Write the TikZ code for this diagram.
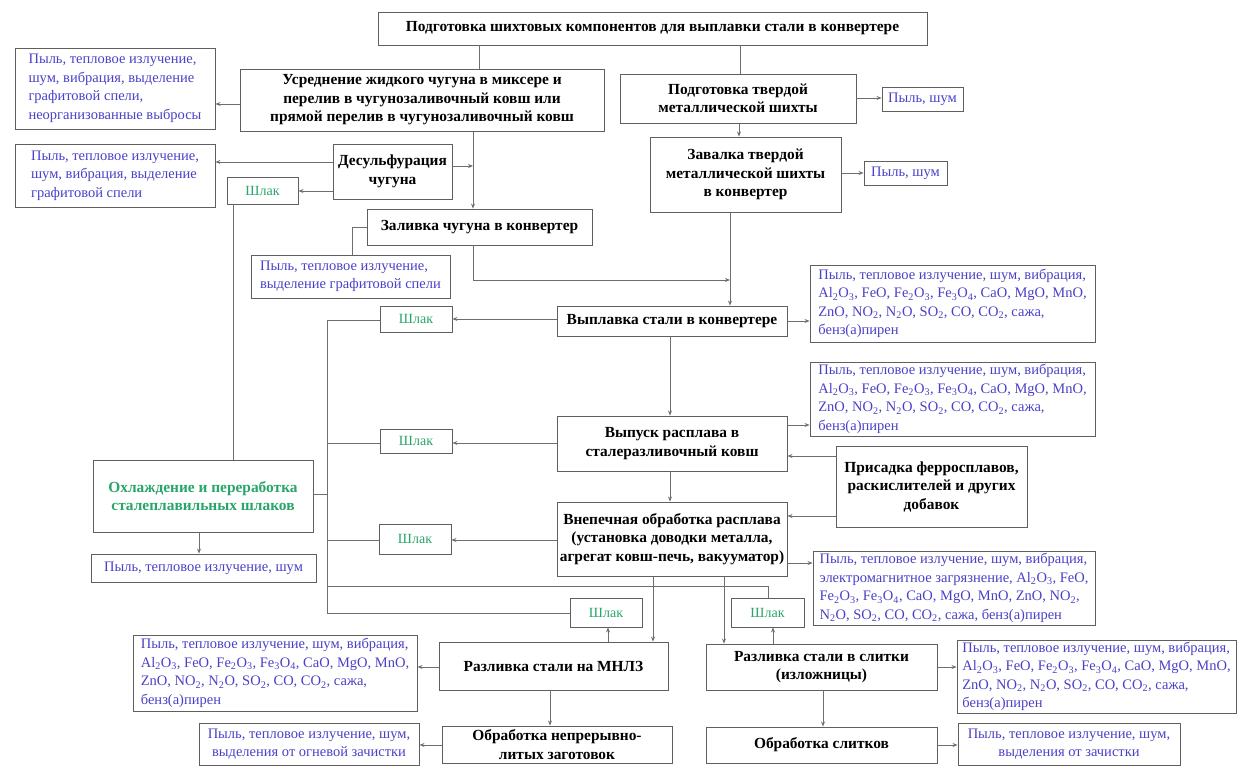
\documentclass[tikz,border=0pt]{standalone}
\usepackage{fontspec}
\setmainfont{Liberation Serif}
\usetikzlibrary{arrows.meta}
\newcommand{\ssub}[1]{\textsubscript{#1}}
\definecolor{boxgray}{RGB}{95,95,95}
\definecolor{linegray}{RGB}{110,110,110}
\definecolor{emisblue}{RGB}{75,65,200}
\definecolor{slaggreen}{RGB}{40,165,105}
\tikzset{
  box/.style={draw=boxgray, line width=0.9pt, inner sep=2pt, align=center, fill=white},
  proc/.style={box, font=\fontsize{15.4}{18.5}\selectfont\bfseries},
  emis/.style={box, text=emisblue, font=\fontsize{14.5}{18.5}\selectfont, align=left},
  emisc/.style={box, text=emisblue, font=\fontsize{14.5}{18.5}\selectfont, align=center},
  slag/.style={box, text=slaggreen, font=\fontsize{14}{16}\selectfont},
  ln/.style={draw=linegray, line width=0.8pt},
  arr/.style={ln, -{Stealth[length=5pt,width=4pt]}}
}
\begin{document}
\begin{tikzpicture}[x=1pt,y=-1pt]
\useasboundingbox (0,0) rectangle (1237,767);
% process boxes
\node[proc, minimum width=549pt, minimum height=33pt] (top) at (652.5,28.5) {Подготовка шихтовых компонентов для выплавки стали в конвертере};
\node[proc, minimum width=364pt, minimum height=62pt] (usr) at (422,100) {Усреднение жидкого чугуна в миксере и\\ перелив в чугунозаливочный ковш или\\ прямой перелив в чугунозаливочный ковш};
\node[proc, minimum width=236pt, minimum height=49pt] (tv) at (738,98.5) {Подготовка твердой\\ металлической шихты};
\node[proc, minimum width=191pt, minimum height=75pt] (zav) at (745.5,174.5) {Завалка твердой\\ металлической шихты\\ в конвертер};
\node[proc, minimum width=119pt, minimum height=55pt] (des) at (392.5,171.5) {Десульфурация\\ чугуна};
\node[proc, minimum width=225pt, minimum height=36pt] (zal) at (479.5,227) {Заливка чугуна в конвертер};
\node[proc, minimum width=230pt, minimum height=30pt] (vyp) at (672,321) {Выплавка стали в конвертере};
\node[proc, minimum width=230pt, minimum height=55pt] (vyk) at (672,443.5) {Выпуск расплава в\\ сталеразливочный ковш};
\node[proc, minimum width=191pt, minimum height=81pt] (pris) at (931.5,486.5) {Присадка ферросплавов,\\ раскислителей и других\\ добавок};
\node[proc, minimum width=230pt, minimum height=74pt] (vnep) at (672,539) {Внепечная обработка расплава\\ (установка доводки металла,\\ агрегат ковш-печь, вакууматор)};
\node[proc, minimum width=229pt, minimum height=48pt] (mnlz) at (553.5,666) {Разливка стали на МНЛЗ};
\node[proc, minimum width=231pt, minimum height=46pt] (slit) at (821.5,667) {Разливка стали в слитки\\ (изложницы)};
\node[proc, minimum width=230pt, minimum height=37pt] (obnl) at (557,744.5) {Обработка непрерывно-\\литых заготовок};
\node[proc, minimum width=231pt, minimum height=36pt] (obsl) at (821.5,745) {Обработка слитков};
\node[proc, text=slaggreen, minimum width=220pt, minimum height=72pt] (ohl) at (203,496) {Охлаждение и переработка\\ сталеплавильных шлаков};
% slag boxes
\node[slag, minimum width=71pt, minimum height=27pt] (sl1) at (262.5,190.5) {Шлак};
\node[slag, minimum width=72pt, minimum height=26pt] (sl2) at (416,319) {Шлак};
\node[slag, minimum width=72pt, minimum height=24pt] (sl3) at (416,441) {Шлак};
\node[slag, minimum width=72pt, minimum height=30pt] (sl4) at (415,539) {Шлак};
\node[slag, minimum width=72pt, minimum height=29pt] (sl5) at (606,612.5) {Шлак};
\node[slag, minimum width=73pt, minimum height=29pt] (sl6) at (767.5,612.5) {Шлак};
% emission boxes
\node[emis, minimum width=200pt, minimum height=81pt] (e1) at (115,88.5) {Пыль, тепловое излучение,\\ шум, вибрация, выделение\\ графитовой спели,\\ неорганизованные выбросы};
\node[emis, minimum width=200pt, minimum height=63pt] (e2) at (115,175.5) {Пыль, тепловое излучение,\\ шум, вибрация, выделение\\ графитовой спели};
\node[emis, minimum width=199pt, minimum height=43pt] (e3) at (350.5,276.5) {Пыль, тепловое излучение,\\ выделение графитовой спели};
\node[emis, minimum width=81pt, minimum height=24pt] (e4) at (922.5,99) {Пыль, шум};
\node[emis, minimum width=83pt, minimum height=24pt] (e5) at (905.5,173) {Пыль, шум};
\node[emis, minimum width=285pt, minimum height=77pt] (e6) at (952.5,303.5) {Пыль, тепловое излучение, шум, вибрация,\\ Al\ssub{2}O\ssub{3}, FeO, Fe\ssub{2}O\ssub{3}, Fe\ssub{3}O\ssub{4}, CaO, MgO, MnO,\\ ZnO, NO\ssub{2}, N\ssub{2}O, SO\ssub{2}, CO, CO\ssub{2}, сажа,\\ бенз(а)пирен};
\node[emis, minimum width=285pt, minimum height=74pt] (e7) at (952.5,399) {Пыль, тепловое излучение, шум, вибрация,\\ Al\ssub{2}O\ssub{3}, FeO, Fe\ssub{2}O\ssub{3}, Fe\ssub{3}O\ssub{4}, CaO, MgO, MnO,\\ ZnO, NO\ssub{2}, N\ssub{2}O, SO\ssub{2}, CO, CO\ssub{2}, сажа,\\ бенз(а)пирен};
\node[emis, minimum width=282pt, minimum height=74pt] (e8) at (954,588) {Пыль, тепловое излучение, шум, вибрация,\\ электромагнитное загрязнение, Al\ssub{2}O\ssub{3}, FeO,\\ Fe\ssub{2}O\ssub{3}, Fe\ssub{3}O\ssub{4}, CaO, MgO, MnO, ZnO, NO\ssub{2},\\ N\ssub{2}O, SO\ssub{2}, CO, CO\ssub{2}, сажа, бенз(а)пирен};
\node[emis, minimum width=284pt, minimum height=76pt] (e9) at (275,673) {Пыль, тепловое излучение, шум, вибрация,\\ Al\ssub{2}O\ssub{3}, FeO, Fe\ssub{2}O\ssub{3}, Fe\ssub{3}O\ssub{4}, CaO, MgO, MnO,\\ ZnO, NO\ssub{2}, N\ssub{2}O, SO\ssub{2}, CO, CO\ssub{2}, сажа,\\ бенз(а)пирен};
\node[emis, minimum width=279pt, minimum height=67pt] (e10) at (1096.5,676.5) {Пыль, тепловое излучение, шум, вибрация,\\ Al\ssub{2}O\ssub{3}, FeO, Fe\ssub{2}O\ssub{3}, Fe\ssub{3}O\ssub{4}, CaO, MgO, MnO,\\ ZnO, NO\ssub{2}, N\ssub{2}O, SO\ssub{2}, CO, CO\ssub{2}, сажа,\\ бенз(а)пирен};
\node[emisc, minimum width=220pt, minimum height=42pt] (e11) at (309,744) {Пыль, тепловое излучение, шум,\\ выделения от огневой зачистки};
\node[emisc, minimum width=222pt, minimum height=42pt] (e12) at (1069,744) {Пыль, тепловое излучение, шум,\\ выделения от зачистки};
\node[emis, minimum width=225pt, minimum height=28pt] (e13) at (203.5,568) {Пыль, тепловое излучение, шум};
% connectors
\draw[ln] (top.south -| 479,0) -- (usr.north -| 479,0);
\draw[ln] (top.south -| 740,0) -- (tv.north -| 740,0);
\draw[arr] (usr.west |- 0,104) -- (e1.east |- 0,104);
\draw[arr] (usr.south -| 473,0) -- (zal.north -| 473,0);
\draw[arr] (des.east |- 0,166) -- (473,166);
\draw[arr] (des.west |- 0,162) -- (e2.east |- 0,162);
\draw[arr] (des.west |- 0,191) -- (sl1.east |- 0,191);
\draw[ln] (sl1.south -| 233,0) -- (ohl.north -| 233,0);
\coordinate (zc) at (352,227);
\draw[ln] (zal.west |- zc) -- (zc) -- (e3.north -| zc);
\coordinate (zb) at (473,280);
\draw[arr] (zal.south -| zb) -- (zb) -- (730,280);
\draw[arr] (tv.south -| 739,0) -- (zav.north -| 739,0);
\draw[arr] (tv.east |- 0,98) -- (e4.west |- 0,98);
\draw[arr] (zav.east |- 0,173) -- (e5.west |- 0,173);
\draw[arr] (zav.south -| 730,0) -- (vyp.north -| 730,0);
\draw[arr] (vyp.east |- 0,321) -- (e6.west |- 0,321);
\draw[arr] (vyp.west |- 0,319) -- (sl2.east |- 0,319);
\draw[arr] (vyp.south -| 670,0) -- (vyk.north -| 670,0);
\draw[arr] (vyk.west |- 0,443) -- (sl3.east |- 0,443);
\draw[arr] (vyk.east |- 0,425) -- (e7.west |- 0,425);
\draw[arr] (pris.west |- 0,456) -- (vyk.east |- 0,456);
\draw[arr] (pris.west |- 0,516) -- (vnep.east |- 0,516);
\draw[arr] (vyk.south -| 670,0) -- (vnep.north -| 670,0);
\draw[arr] (vnep.west |- 0,540) -- (sl4.east |- 0,540);
\draw[arr] (vnep.east |- 0,563) -- (e8.west |- 0,563);
% slag collector
\coordinate (c1) at (327,320);
\coordinate (c2) at (327,613);
\coordinate (c3) at (768,586);
\draw[ln] (sl2.west |- c1) -- (c1) -- (c2) -- (sl5.west |- c2);
\draw[ln] (sl3.west |- 0,443) -- (327,443);
\draw[ln] (sl4.west |- 0,540) -- (327,540);
\draw[ln] (ohl.east |- 0,494) -- (327,494);
\draw[ln] (327,586) -- (c3) -- (sl6.north -| c3);
% casting
\draw[arr] (vnep.south -| 653,0) -- (mnlz.north -| 653,0);
\draw[arr] (vnep.south -| 724,0) -- (slit.north -| 724,0);
\draw[arr] (mnlz.north -| 608,0) -- (sl5.south -| 608,0);
\draw[arr] (slit.north -| 773,0) -- (sl6.south -| 773,0);
\draw[arr] (mnlz.west |- 0,667) -- (e9.east |- 0,667);
\draw[arr] (slit.east |- 0,667) -- (e10.west |- 0,667);
\draw[arr] (mnlz.south -| 550,0) -- (obnl.north -| 550,0);
\draw[arr] (slit.south -| 823,0) -- (obsl.north -| 823,0);
\draw[arr] (obnl.west |- 0,745) -- (e11.east |- 0,745);
\draw[arr] (obsl.east |- 0,745) -- (e12.west |- 0,745);
\draw[arr] (ohl.south -| 199,0) -- (e13.north -| 199,0);
\end{tikzpicture}
\end{document}
